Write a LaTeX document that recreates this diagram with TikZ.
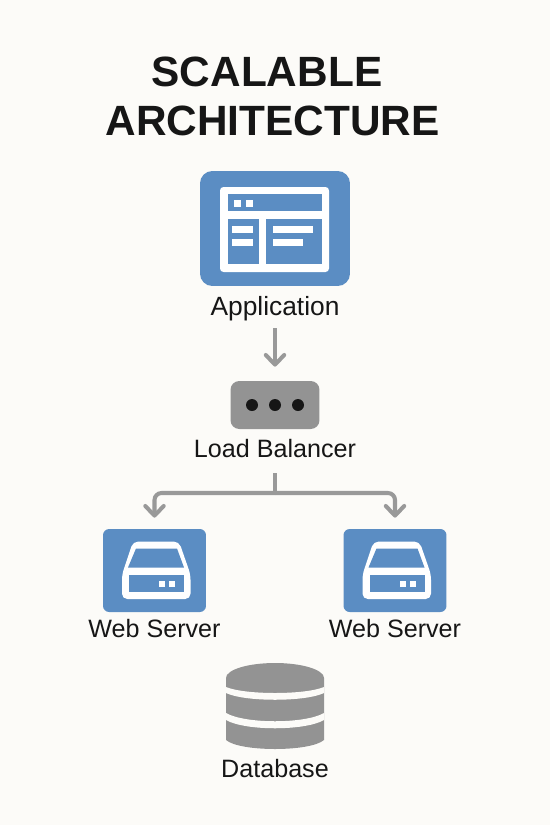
\documentclass[tikz,border=0pt]{standalone}
\usepackage{fontspec}
\setmainfont{Liberation Sans}
\usetikzlibrary{arrows.meta,positioning,calc}
\definecolor{paper}{HTML}{FCFBF8}
\definecolor{iconblue}{HTML}{5B8DC3}
\definecolor{icongray}{HTML}{939393}
\definecolor{linegray}{HTML}{999999}
\definecolor{inkdark}{HTML}{161616}
\tikzset{
  servericon/.pic={
    \fill[white,rounded corners=3pt] (-21.5,-29) -- (24.5,-29) -- (36,4) -- (36,28.5) -- (-32.5,28.5) -- (-32.5,4) -- cycle;
    \fill[iconblue] (-18.5,-22) -- (22.5,-22) -- (29.5,-3) -- (-26.5,-3) -- cycle;
    \fill[iconblue] (-25.5,4.5) rectangle (29.5,21.5);
    \fill[white] (4.5,10.5) rectangle (10.5,16.5);
    \fill[white] (14.5,10.5) rectangle (20.5,16.5);
  }
}
\begin{document}
\begin{tikzpicture}[x=0.02cm,y=-0.02cm,font=\fontsize{14.3pt}{16pt}\selectfont,text=inkdark,
  lab/.style={inner sep=0pt,text height=9.6pt,text depth=2.9pt},
  titleline/.style={inner sep=0pt,font=\fontsize{24.1pt}{28pt}\selectfont\bfseries},
  appbox/.style={fill=iconblue,rounded corners=7pt,minimum width=3cm,minimum height=2.3cm,inner sep=0pt},
  webbox/.style={fill=iconblue,rounded corners=3.5pt,minimum width=2.06cm,minimum height=1.66cm,inner sep=0pt},
  lbbox/.style={fill=icongray,rounded corners=5pt,minimum width=1.78cm,minimum height=0.96cm,inner sep=0pt},
  lbdot/.style={circle,fill=inkdark,minimum size=0.24cm,inner sep=0pt},
  conn/.style={draw=linegray,line width=2.3pt,-{Straight Barb[length=5.5pt,width=10.5pt,line width=2.3pt,round]}}]
\fill[paper] (0,0) rectangle (550,825);
\useasboundingbox (0,0) rectangle (550,825);
\node[titleline] (title1) at (267,72) {SCALABLE};
\node[titleline] (title2) at (272.5,121) {ARCHITECTURE};
\node[appbox] (app) at (275,228.5) {};
\fill[white,rounded corners=2pt] (220,187) rectangle (329,272);
\fill[iconblue] (228,194) rectangle (322,211);
\fill[iconblue] (228,219) rectangle (259,264);
\fill[iconblue] (266,219) rectangle (322,264);
\foreach \x in {234,246} \fill[white] (\x,200) rectangle (\x+7,207);
\foreach \y in {226,239} \fill[white] (232,\y) rectangle (253,\y+6.5);
\fill[white] (273,226) rectangle (313,232.5);
\fill[white] (273,239) rectangle (303,245.5);
\node[lab,font=\fontsize{15pt}{16pt}\selectfont] (applabel) at (275,310) {Application};
\node[lbbox] (lb) at (275,405) {};
\foreach \x/\n in {252/a,275/b,298/c} \node[lbdot] (dot\n) at (\x,405) {};
\node[lab] (lblabel) at (275,452) {Load Balancer};
\node[webbox] (weba) at (154.5,570.5) {};
\node[webbox] (webb) at (395,570.5) {};
\pic at (weba) {servericon};
\pic at (webb) {servericon};
\node[lab] (webalabel) at (154.5,632) {Web Server};
\node[lab] (webblabel) at (395,632) {Web Server};
\coordinate (bus) at (275,493);
\draw[conn,shorten <=0.14cm,shorten >=0.28cm] (applabel.south) -- (lb.north);
\draw[draw=linegray,line width=2.3pt,shorten <=0.2cm] (lblabel.south) -- (bus);
\draw[conn,rounded corners=4pt,shorten >=0.22cm] (bus) -| (weba.north);
\draw[conn,rounded corners=4pt,shorten >=0.22cm] (bus) -| (webb.north);
\fill[icongray] (226,678) arc[start angle=180,end angle=0,x radius=49,y radius=-15] -- (324,740) .. controls (310,752) and (240,752) .. (226,740) -- cycle;
\fill[paper] (226,687) .. controls (245,695) and (305,695) .. (324,687) -- (324,693) .. controls (305,702) and (245,702) .. (226,693) -- cycle;
\fill[paper] (226,713) .. controls (245,724) and (305,724) .. (324,713) -- (324,720) .. controls (305,731) and (245,731) .. (226,720) -- cycle;
\node[lab] (dblabel) at (275,772) {Database};
\end{tikzpicture}
\end{document}
